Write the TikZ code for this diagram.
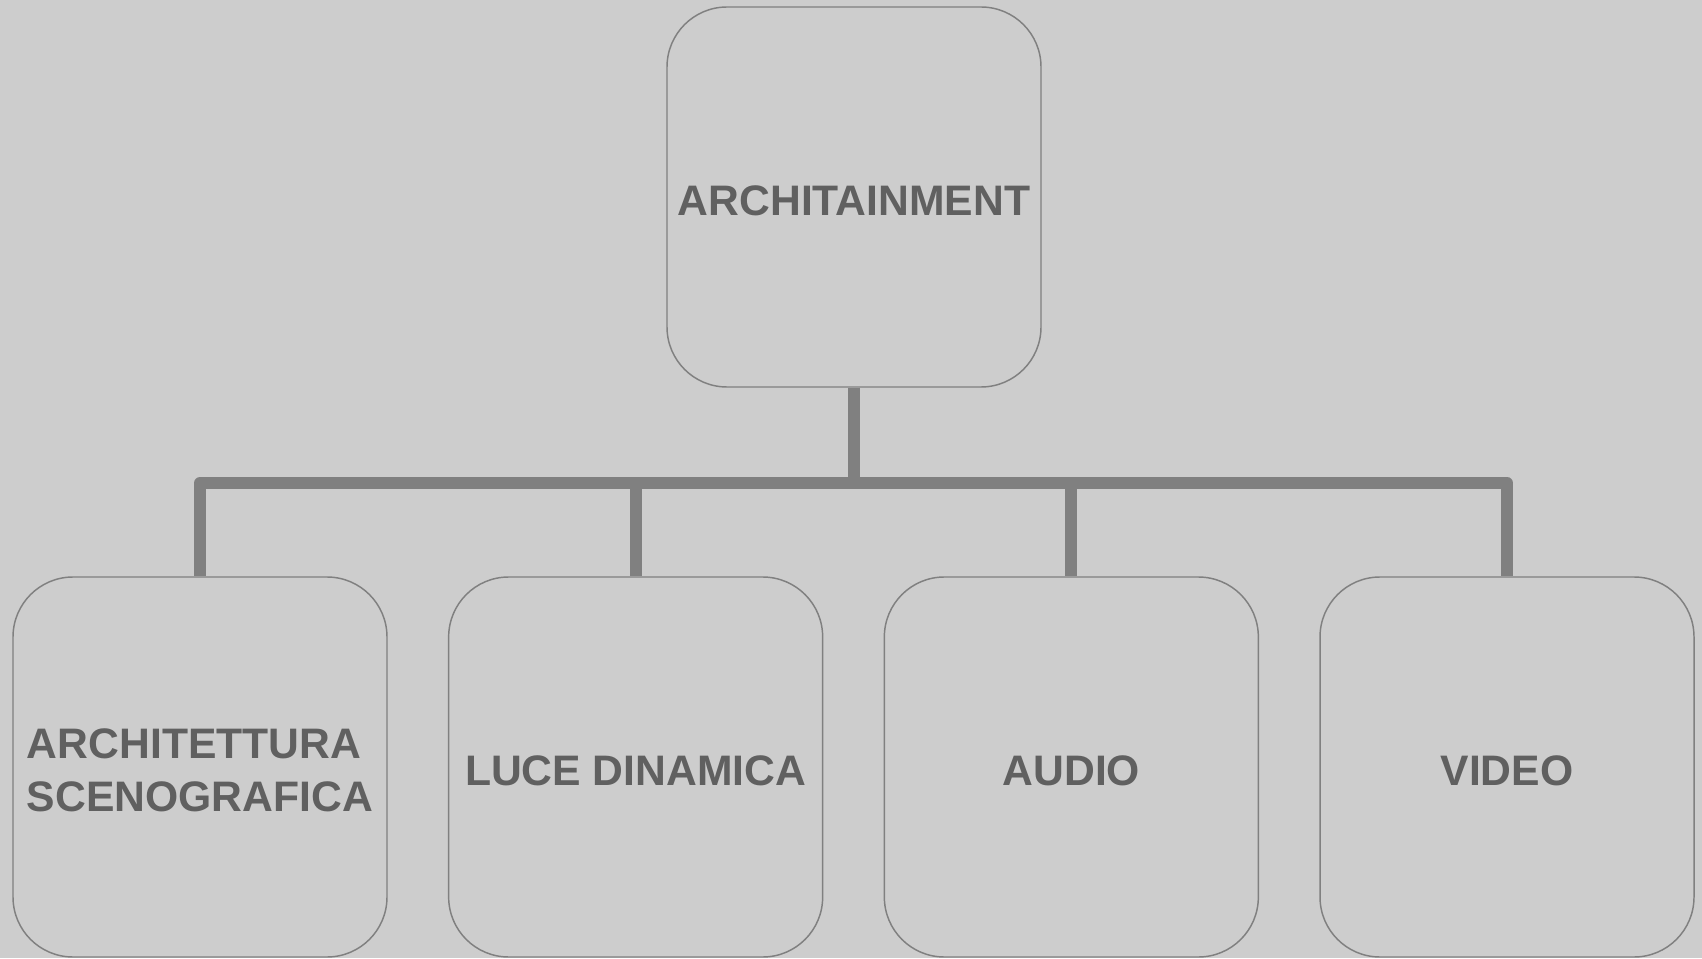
\documentclass[tikz,border=0pt]{standalone}
\usepackage{fontspec}
\setmainfont{Liberation Sans}
\definecolor{bg}{RGB}{205,205,205}
\definecolor{edge}{RGB}{128,128,128}
\definecolor{txt}{RGB}{96,96,96}
\begin{document}
\begin{tikzpicture}[
  box/.style={draw=edge, line width=1.1pt, fill=bg, rounded corners=45pt,
    minimum width=280.5pt, minimum height=285pt, inner sep=0pt,
    text=txt, font=\bfseries\fontsize{32}{40}\selectfont, align=left,
    text height=28pt},
  label/.style={inner sep=0pt, text=txt, font=\bfseries\fontsize{32}{40}\selectfont, align=left},
  conn/.style={draw=edge, line width=9pt, line join=round, line cap=butt}
]
\useasboundingbox (0,0) rectangle (1276.5pt,718.5pt);
\fill[bg] (0,0) rectangle (1276.5pt,718.5pt);

\node[box] (top) at (640.5pt,570.75pt) {ARCHITAINMENT};
\node[box] (c1) at (150pt,143.25pt) {};
\node[label] (c1t) at ([yshift=-2.5pt]c1.center) {ARCHITETTURA\\SCENOGRAFICA};
\node[box] (c2) at (476.75pt,143.25pt) {LUCE DINAMICA};
\node[box] (c3) at (803.5pt,143.25pt) {AUDIO};
\node[box] (c4) at (1130.25pt,143.25pt) {VIDEO};

\coordinate (bus) at (640.5pt,356.25pt);
\draw[conn] (top.south) -- (bus) -| (c1.north);
\draw[conn] (bus) -| (c2.north);
\draw[conn] (bus) -| (c3.north);
\draw[conn] (bus) -| (c4.north);
\end{tikzpicture}
\end{document}
